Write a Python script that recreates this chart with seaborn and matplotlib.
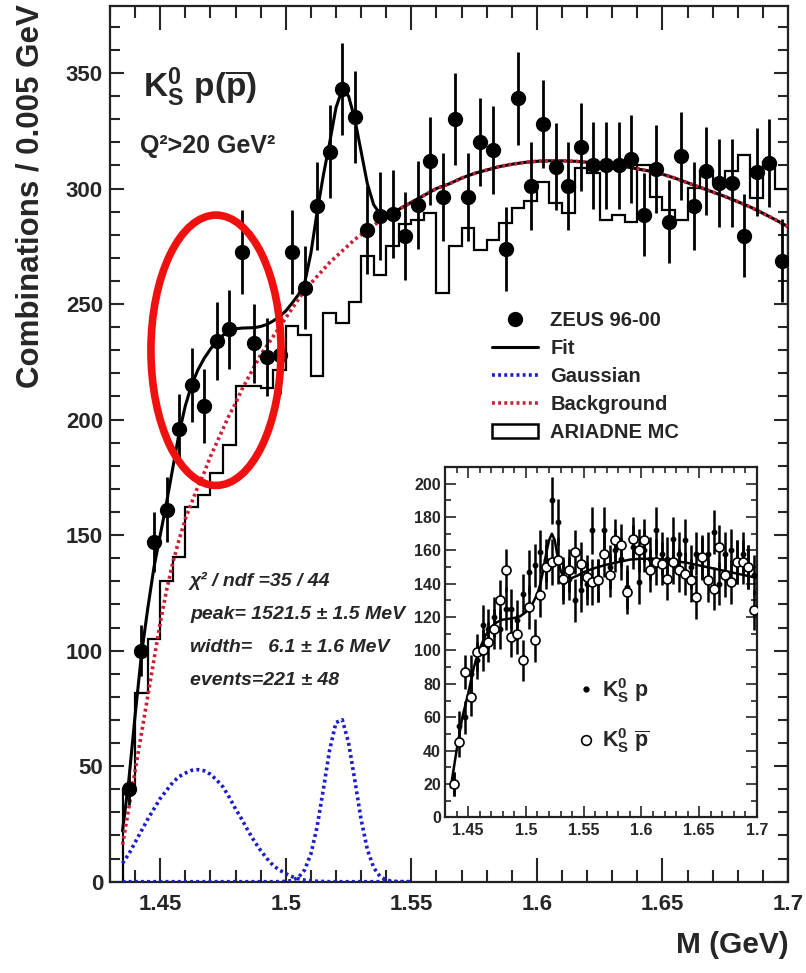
import numpy as np
import matplotlib
matplotlib.use("Agg")
import matplotlib.pyplot as plt
import seaborn as sns
from matplotlib.patches import Ellipse, Rectangle
from matplotlib.lines import Line2D
from matplotlib.ticker import MultipleLocator, FixedLocator

# ---------------- data (main panel) ----------------
bin_edges = np.round(np.arange(1.435, 1.7001, 0.005), 4)
bin_centers = np.round(bin_edges[:-1] + 0.0025, 4)

zeus_y = [40, 100, 147, 161, 196, 215, 206, 234, 239, 272.5,
          233, 227, 228, 272.5, 257, 292.6, 316, 343, 331, 282,
          288, 289, 279.5, 293, 312, 296.5, 330, 296.5, 320, 316.7,
          273.8, 339, 301, 328, 309.5, 301, 318, 310, 310, 310,
          312.7, 288.6, 308.4, 285.7, 314, 292.6, 307.7, 302.3, 302.3, 279.5,
          307, 311, 268.7]
zeus_err = [7, 11, 13, 14, 15, 16, 16, 17, 17, 18,
            17, 17, 17, 18, 18, 19, 20, 20, 20, 19,
            19, 19, 19, 19, 19, 19, 20, 19, 19, 19,
            18, 20, 19, 19, 19, 19, 19, 19, 19, 19,
            19, 18, 19, 18, 19, 19, 19, 19, 19, 18,
            19, 19, 18]

mc_y = [39.7, 81.5, 105, 130, 140.7, 162.3, 167.4, 177, 189, 214.6,
        214.6, 213.6, 221.5, 240.3, 236.7, 219, 246, 241.7, 251, 270.6,
        262.6, 275, 284.7, 286.4, 289.3, 254.7, 275, 282.8, 273.5, 277.8,
        285, 291.5, 294.4, 303, 293.7, 289.3, 308.8, 306.7, 286.4, 288.6,
        285.7, 310.3, 296.5, 290.8, 286.4, 300.2, 307.4, 303, 307.4, 314.6,
        295.8, 311.3, 299.7]

# curves: fine grid up to 1.56, coarser afterwards
curve_x = np.round(np.concatenate([np.arange(1.435, 1.5601, 0.0025),
                                   np.arange(1.565, 1.7001, 0.005)]), 4)
fit_y = [22, 44, 72, 98, 118, 136, 150, 164, 179, 194,
         206, 215, 221.5, 226.5, 230.5, 234, 236.5, 238.5, 239.3, 239.6,
         239.7, 239.8, 240.3, 241.2, 242.7, 244.6, 247, 250.4, 254, 259,
         272, 290, 306, 320, 335, 343, 340, 330, 316, 302,
         293, 289, 288.5, 289.5, 291, 292.5, 294, 295.5, 297, 298.5,
         300,
         302, 304.5, 306.5, 308, 309.5, 310.5, 311.3, 311.8, 312, 312,
         311.8, 311.4, 311, 310.3, 309.5, 308.5, 307.5, 306.2, 304.5, 302.5,
         300.5, 298.5, 296.5, 294.3, 292, 289.3, 286.5, 283.5]
bg_y = [16, 32, 48, 64, 80, 96, 112, 126, 138, 148,
        157, 164, 171, 177, 184, 190, 196, 202, 207, 213,
        218, 223, 228, 232, 236, 240, 244, 248, 252, 256,
        259, 262, 265, 268, 270.5, 273, 275.5, 278, 280, 282,
        284, 286, 288, 289.5, 291, 292.5, 294, 295.5, 297, 298.5,
        300,
        302, 304.5, 306.5, 308, 309.5, 310.5, 311.3, 311.8, 312, 312,
        311.8, 311.4, 311, 310.3, 309.5, 308.5, 307.5, 306.2, 304.5, 302.5,
        300.5, 298.5, 296.5, 294.3, 292, 289.3, 286.5, 283.5]

gauss_x = np.round(np.arange(1.435, 1.5501, 0.0025), 4)
gauss_broad = [8, 12, 17, 22, 27, 31.5, 36, 39.5, 43, 45.5,
               47, 48.2, 48.5, 48, 46.5, 44, 41, 36.5, 31.5, 27,
               22, 17.5, 13.5, 10, 7, 5, 3.5, 2.2, 1.3, 0.7,
               0.4, 0.2, 0.1, 0, 0, 0, 0, 0, 0, 0,
               0, 0, 0, 0, 0, 0, 0]
gauss_narrow = [0, 0, 0, 0, 0, 0, 0, 0, 0, 0,
                0, 0, 0, 0, 0, 0, 0, 0, 0, 0,
                0, 0, 0, 0, 0, 0.03, 0.14, 0.55, 1.8, 5.1,
                12, 23.9, 40.2, 57.2, 68.9, 70.1, 60.2, 43.8, 26.9, 13.9,
                6.1, 2.3, 0.71, 0.19, 0.04, 0, 0]

# ---------------- data (inset) ----------------
inset_p = [20, 55, 60, 86, 94, 115, 113, 120, 113, 125,
           125, 118, 134, 147, 151, 159, 154, 190, 177, 141,
           143, 130, 136, 140, 172, 142, 172, 150, 160, 155,
           138, 162, 141, 160, 155, 172, 158, 155, 167, 158,
           166, 150, 158, 155, 158, 171, 140, 158, 160, 153,
           158, 150, 145]
inset_pbar = [20, 45, 87, 72, 99, 100, 105, 113, 130, 148,
              108, 110, 94, 126, 106, 133, 150, 153, 154, 143,
              148, 159, 152, 144, 141, 142, 158, 145, 166, 163,
              135, 167, 160, 166, 148, 153, 152, 143, 153, 148,
              146, 142, 132, 156, 142, 137, 162, 145, 141, 153,
              153, 150, 124]
inset_err = [7, 9, 10, 11, 11, 12, 12, 12, 12, 13,
             12, 12, 12, 13, 13, 13, 13, 14, 14, 13,
             13, 13, 13, 13, 14, 13, 14, 13, 13, 13,
             13, 13, 13, 13, 13, 14, 13, 13, 13, 13,
             13, 13, 13, 13, 13, 13, 13, 13, 13, 13,
             13, 13, 12]
inset_fit_x = [1.435, 1.44, 1.445, 1.45, 1.455, 1.46, 1.465, 1.47, 1.475, 1.48,
               1.485, 1.49, 1.495, 1.50, 1.505, 1.51, 1.5125, 1.515, 1.5175, 1.52,
               1.5225, 1.525, 1.5275, 1.53, 1.5325, 1.535, 1.54, 1.545, 1.55, 1.56,
               1.57, 1.58, 1.59, 1.60, 1.61, 1.62, 1.63, 1.64, 1.65, 1.66,
               1.67, 1.68, 1.69, 1.70]
inset_fit_y = [18, 40, 60, 74, 90, 101, 109, 114, 117, 118.5,
               119, 119.5, 120.5, 123, 127, 134, 140, 148, 158, 166,
               170, 166, 156, 148, 144, 143, 143.5, 145, 147, 149.5,
               151.5, 153, 154.5, 155, 155, 154.5, 153.5, 152.5, 151, 149.5,
               148, 146.5, 145, 143.5]

x_ticks = [1.45, 1.5, 1.55, 1.6, 1.65, 1.7]
x_ticklabels = ["1.45", "1.5", "1.55", "1.6", "1.65", "1.7"]
y_ticks = [0, 50, 100, 150, 200, 250, 300, 350]
inset_y_ticks = [0, 20, 40, 60, 80, 100, 120, 140, 160, 180, 200]

# ---------------- style ----------------
sns.set_style("ticks")
plt.rcParams["font.family"] = ["Liberation Sans", "DejaVu Sans"]
plt.rcParams["font.weight"] = "bold"
plt.rcParams["mathtext.fontset"] = "custom"
plt.rcParams["mathtext.rm"] = "Liberation Sans:bold"
plt.rcParams["mathtext.bf"] = "Liberation Sans:bold"
plt.rcParams["mathtext.it"] = "Liberation Sans:bold:italic"
plt.rcParams["mathtext.sf"] = "Liberation Sans:bold"

BLUE = "#1c1ccf"
RED = "#cc1f36"
DOT = (0, (0.8, 0.9))

W, H = 806, 973
fig = plt.figure(figsize=(W / 100, H / 100), dpi=100)
fig.patch.set_facecolor("white")

def fx(px):
    return px / W

def fy(py):
    return 1 - py / H

ax = fig.add_axes([fx(110), fy(881.7), fx(788) - fx(110), fy(6) - fy(881.7)])

def root_ticks(a, xmaj_len, xmin_len, ymaj_len, ymin_len, width=1.5, labelsize=16, xpad=9, ypad=5):
    a.tick_params(axis="x", which="major", direction="in", top=True, bottom=True,
                  length=xmaj_len, width=width, labelsize=labelsize, pad=xpad)
    a.tick_params(axis="x", which="minor", direction="in", top=True, bottom=True,
                  length=xmin_len, width=width)
    a.tick_params(axis="y", which="major", direction="in", left=True, right=True,
                  length=ymaj_len, width=width, labelsize=labelsize, pad=ypad)
    a.tick_params(axis="y", which="minor", direction="in", left=True, right=True,
                  length=ymin_len, width=width)
    for s in a.spines.values():
        s.set_linewidth(1.6)
        s.set_color("#222222")
    for lab in a.get_xticklabels() + a.get_yticklabels():
        lab.set_fontweight("bold")

# MC histogram
ax.stairs(mc_y, bin_edges, baseline=0, color="black", lw=1.6, zorder=2)
# Gaussians
sns.lineplot(x=gauss_x, y=gauss_broad, ax=ax, color=BLUE, lw=2.6, linestyle=DOT, zorder=3)
sns.lineplot(x=gauss_x, y=gauss_narrow, ax=ax, color=BLUE, lw=2.6, linestyle=DOT, zorder=3)
# fit
sns.lineplot(x=curve_x, y=fit_y, ax=ax, color="black", lw=2.2, zorder=4)
# background
sns.lineplot(x=curve_x, y=bg_y, ax=ax, color=RED, lw=2.6, linestyle=DOT, zorder=5)
# data
ax.errorbar(bin_centers, zeus_y, yerr=zeus_err, fmt="o", color="black", ms=10,
            elinewidth=2.0, capsize=0, zorder=6)

# red ellipse
ax.add_patch(Ellipse((1.4722, 230), width=0.0518, height=117, fill=False,
                     edgecolor="#f01010", lw=5.5, zorder=8))

ax.set_xlim(1.43, 1.70)
ax.set_ylim(0, 379)
ax.set_xticks(x_ticks, x_ticklabels)
ax.xaxis.set_minor_locator(MultipleLocator(0.01))
ax.set_yticks(y_ticks)
ax.yaxis.set_minor_locator(MultipleLocator(10))
ax.set_xlabel("")
ax.set_ylabel("")
root_ticks(ax, 17, 8.5, 10, 7)

# axis titles
fig.text(fx(31), fy(4), "Combinations / 0.005 GeV", rotation=90, ha="center", va="top",
         fontsize=22.5, fontweight="bold")
fig.text(fx(789), fy(945), "M (GeV)", ha="right", va="center", fontsize=21.5, fontweight="bold")

# panel texts
fig.text(fx(143), fy(97), r"$\mathbf{K^0_S\ p(\overline{p})}$", fontsize=24, ha="left", va="baseline")
fig.text(fx(140), fy(153), "Q²>20 GeV²", fontsize=18, fontweight="bold", ha="left", va="baseline")

stats = ["χ² / ndf =35 / 44", "peak= 1521.5 ± 1.5 MeV", "width=   6.1 ± 1.6 MeV", "events=221 ± 48"]
for i, s in enumerate(stats):
    fig.text(fx(190), fy(586 + 33 * i), s, fontsize=14, fontweight="bold", fontstyle="italic",
             ha="left", va="baseline")

# legend
handles = [
    Line2D([], [], marker="o", color="black", ls="none", ms=10),
    Line2D([], [], color="black", lw=2.2),
    Line2D([], [], color=BLUE, lw=2.6, linestyle=DOT),
    Line2D([], [], color=RED, lw=2.6, linestyle=DOT),
    Rectangle((0, 0), 1, 1, facecolor="white", edgecolor="black", lw=1.8),
]
labels = ["ZEUS 96-00", "Fit", "Gaussian", "Background", "ARIADNE MC"]
leg = ax.legend(handles, labels, loc="upper left", bbox_to_anchor=(fx(492), fy(311)),
                bbox_transform=fig.transFigure, frameon=False, fontsize=14.5,
                handlelength=2.3, handletextpad=0.6, labelspacing=0.45,
                borderpad=0, borderaxespad=0)
for t in leg.get_texts():
    t.set_fontweight("bold")

# ---------------- inset ----------------
axi = fig.add_axes([fx(445), fy(817.3), fx(757) - fx(445), fy(467) - fy(817.3)])
axi.set_facecolor("white")
axi.set_zorder(10)
sns.lineplot(x=inset_fit_x, y=inset_fit_y, ax=axi, color="black", lw=1.8, zorder=3)
axi.errorbar(bin_centers, inset_p, yerr=inset_err, fmt="o", color="black", ms=3.2,
             elinewidth=1.8, capsize=0, zorder=4)
axi.errorbar(bin_centers, inset_pbar, yerr=inset_err, fmt="o", mfc="white", mec="black",
             mew=1.2, ms=6.5, color="black", elinewidth=1.8, capsize=0, zorder=5)
axi.set_xlim(1.43, 1.70)
axi.set_ylim(0, 210)
axi.set_xticks(x_ticks, x_ticklabels)
axi.xaxis.set_minor_locator(MultipleLocator(0.01))
axi.set_yticks(inset_y_ticks)
axi.yaxis.set_minor_locator(MultipleLocator(10))
axi.set_xlabel("")
axi.set_ylabel("")
root_ticks(axi, 8, 4, 8, 4, width=1.2, labelsize=11.5, xpad=4, ypad=3)

ih = [Line2D([], [], marker="o", color="black", ls="none", ms=3.5),
      Line2D([], [], marker="o", mfc="white", mec="black", mew=1.2, ls="none", ms=7)]
il = [r"$\mathbf{K^0_S\ p}$", r"$\mathbf{K^0_S\ \overline{p}}$"]
leg2 = axi.legend(ih, il, loc="upper left", bbox_to_anchor=(fx(580), fy(676)),
                  bbox_transform=fig.transFigure, frameon=False, fontsize=15.5,
                  handlelength=0.6, handletextpad=0.4, labelspacing=1.0,
                  borderpad=0, borderaxespad=0)

fig.savefig("out.png", dpi=100)
